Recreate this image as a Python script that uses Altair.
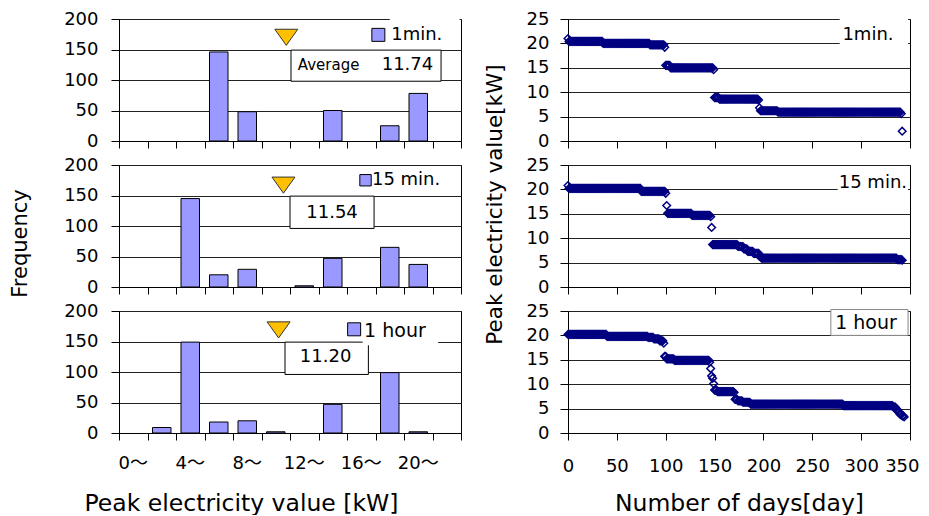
import altair as alt
import pandas as pd

FONT = "DejaVu Sans, Noto Sans CJK JP, sans-serif"

# ---------------- histogram data (left column) ----------------
bin_lo = [0, 2, 4, 6, 8, 10, 12, 14, 16, 18, 20, 22]
bin_hi = [2, 4, 6, 8, 10, 12, 14, 16, 18, 20, 22, 24]
bin_edges = [0, 2, 4, 6, 8, 10, 12, 14, 16, 18, 20, 22, 24]
freq_1min = [0, 0, 0, 146, 48, 0, 0, 50, 0, 25, 78, 0]
freq_15min = [0, 0, 145, 20, 29, 0, 2, 47, 0, 65, 37, 0]
freq_1hour = [0, 9, 149, 18, 20, 2, 0, 47, 0, 99, 2, 0]
averages = [11.74, 11.54, 11.20]
average_text = ["11.74", "11.54", "11.20"]
series_names = ["1min.", "15 min.", "1 hour"]
x_label_text = ["0〜", "4〜", "8〜", "12〜", "16〜", "20〜"]
x_label_at = [1, 5, 9, 13, 17, 21]
freq_ticks = [0, 50, 100, 150, 200]

# ---------------- duration curves (right column) ----------------
# plateau levels (kW) and number of days spent at each level
dur_1min_kw = [21.0, 20.4, 20.0, 19.7, 19.2, 15.5, 15.0, 14.6, 8.9, 8.6, 8.4,
               6.8, 6.2, 5.9, 5.6, 2.0]
dur_1min_days = [1, 35, 48, 15, 1, 5, 44, 1, 5, 40, 1, 1, 18, 126, 1, 1]

dur_15min_kw = [20.8, 20.2, 19.6, 19.2, 16.7, 15.1, 14.7, 14.4, 12.2, 8.7, 8.3,
                7.8, 7.3, 6.9, 6.3, 5.9, 5.6, 5.5]
dur_15min_days = [1, 74, 25, 1, 1, 25, 19, 1, 1, 26, 6, 4, 6, 6, 2, 139, 5, 1]

dur_1hour_kw = [20.2, 19.8, 19.6, 19.3, 18.9, 18.4, 15.7, 15.2, 14.9, 14.5, 13.2,
                11.7, 11.2, 10.1, 8.8, 8.5, 8.3, 6.9, 6.6, 6.3, 5.9, 5.6, 5.3,
                4.8, 4.3, 3.8, 3.5, 3.3]
dur_1hour_days = [40, 42, 6, 6, 4, 1, 2, 8, 36, 1, 1, 1, 1, 1, 3, 17, 1, 3, 5, 8,
                  95, 51, 3, 2, 2, 2, 2, 1]
day_ticks = [0, 50, 100, 150, 200, 250, 300, 350]
kw_ticks = [0, 5, 10, 15, 20, 25]

W, H = 342, 122
BAR = "#9999FF"
NAVY = "#000080"

# annotation placement (style) for each panel
hist_ann = [
    dict(tri_y=170, box=(12.07, 22.6, 98, 149), avg_label=True, txt_y=124,
         cover=(19.0, 23.9, 182, 204), sq=(18.2, 174, 169), leg=(19.1, 174, 18)),
    dict(tri_y=167, box=(12.0, 17.9, 96, 149), avg_label=False, txt_x=14.95, txt_y=122,
         cover=None, sq=(17.3, 175, 130), leg=(17.75, 175, 18)),
    dict(tri_y=169, box=(11.65, 17.5, 96, 149), avg_label=False, txt_x=14.5, txt_y=124,
         cover=(17.1, 22.4, 144, 185), sq=(16.5, 170, 169), leg=(17.2, 167, 19)),
]
dur_ann = [
    dict(box=(278, 348, 19.6, 25.4), stroke=None, txt=(307, 21.7, 18)),
    dict(box=(276, 348, 19.3, 24.6), stroke=None, txt=(312, 21.3, 18)),
    dict(box=(269, 348, 20.0, 25.3), stroke="#888888", txt=(305, 22.5, 19)),
]


def one_row(**cols):
    return pd.DataFrame({k: [v] for k, v in cols.items()})


def make_enc(xs, ys, xaxis, yaxis, xtitle, ytitle):
    def X(field):
        return alt.X(field, scale=xs, axis=xaxis, title=xtitle)

    def Y(field):
        return alt.Y(field, scale=ys, axis=yaxis, title=ytitle)
    return X, Y


def hist_panel(i, freq, bottom, ytitle):
    ann = hist_ann[i]
    xs = alt.Scale(domain=[0, 24], nice=False, zero=False)
    ys = alt.Scale(domain=[0, 200], nice=False)
    xaxis_kw = dict(values=bin_edges, labels=False, tickSize=7, grid=False)
    if bottom:
        xaxis_kw.update(titleX=122, titleY=70, titleAlign="center",
                        titleBaseline="middle", titleFontSize=23.5)
    yaxis_kw = dict(values=freq_ticks, tickSize=8, labelPadding=13, grid=True)
    if ytitle:
        yaxis_kw.update(titleX=-99, titleY=78, titleAlign="center",
                        titleBaseline="middle", titleFontSize=21)
    X, Y = make_enc(xs, ys, alt.Axis(**xaxis_kw), alt.Axis(**yaxis_kw),
                    "Peak electricity value [kW]" if bottom else None,
                    "Frequency" if ytitle else None)

    df = pd.DataFrame({"lo": bin_lo, "hi": bin_hi, "freq": freq})
    bars = alt.Chart(df).transform_filter("datum.freq > 0").mark_bar(
        fill=BAR, stroke="black", strokeWidth=1, xOffset=5, x2Offset=-5).encode(
        x=X("lo:Q"), x2="hi:Q", y=Y("freq:Q"), y2=alt.datum(0))
    layers = [bars]

    tri = alt.Chart(one_row(avg=averages[i], y=ann["tri_y"])).mark_point(
        shape="M-1,-0.7L1,-0.7L0,0.7Z", filled=True, fill="#FFC000", stroke="#333333",
        strokeWidth=1, size=529, opacity=1).encode(x=X("avg:Q"), y=Y("y:Q"))
    layers.append(tri)

    bx = ann["box"]
    box = alt.Chart(one_row(a=bx[0], b=bx[1], c=bx[2], d=bx[3])).mark_rect(
        fill="white", stroke="black", strokeWidth=1).encode(
        x=X("a:Q"), x2="b:Q", y=Y("c:Q"), y2="d:Q")
    layers.append(box)

    if ann["avg_label"]:
        t1 = alt.Chart(one_row(x=bx[0] + 0.48, y=ann["txt_y"], t="Average")).mark_text(
            align="left", baseline="middle", font=FONT, fontSize=15, color="black").encode(
            x=X("x:Q"), y=Y("y:Q"), text="t:N")
        t2 = alt.Chart(one_row(x=bx[1] - 0.55, y=ann["txt_y"], t=average_text[i])).mark_text(
            align="right", baseline="middle", font=FONT, fontSize=18, color="black").encode(
            x=X("x:Q"), y=Y("y:Q"), text="t:N")
        layers += [t1, t2]
    else:
        t2 = alt.Chart(one_row(x=ann["txt_x"], y=ann["txt_y"], t=average_text[i])).mark_text(
            align="center", baseline="middle", font=FONT, fontSize=18, color="black").encode(
            x=X("x:Q"), y=Y("y:Q"), text="t:N")
        layers.append(t2)

    if ann["cover"] is not None:
        cv = ann["cover"]
        cover = alt.Chart(one_row(a=cv[0], b=cv[1], c=cv[2], d=cv[3])).mark_rect(
            fill="white", strokeWidth=0).encode(
            x=X("a:Q"), x2="b:Q", y=Y("c:Q"), y2="d:Q")
        layers.append(cover)

    sq = ann["sq"]
    square = alt.Chart(one_row(x=sq[0], y=sq[1])).mark_point(
        shape="square", filled=True, fill=BAR, stroke="black", strokeWidth=1,
        size=sq[2], opacity=1).encode(x=X("x:Q"), y=Y("y:Q"))
    lg = ann["leg"]
    legtxt = alt.Chart(one_row(x=lg[0], y=lg[1], t=series_names[i])).mark_text(
        align="left", baseline="middle", font=FONT, fontSize=lg[2], color="black").encode(
        x=X("x:Q"), y=Y("y:Q"), text="t:N")
    layers += [square, legtxt]

    if bottom:
        xl = alt.Chart(pd.DataFrame({"x": x_label_at, "t": x_label_text})).mark_text(
            align="center", baseline="middle", font=FONT, fontSize=18, color="black").encode(
            x=X("x:Q"), y=alt.value(H + 31), text="t:N")
        layers.append(xl)

    return alt.layer(*layers).properties(width=W, height=H)


def dur_panel(i, kw, days, bottom, ytitle):
    ann = dur_ann[i]
    vals = []
    for v, c in zip(kw, days):
        vals += [v] * c
    df = pd.DataFrame({"day": list(range(len(vals))), "kw": vals})
    xs = alt.Scale(domain=[0, 350], nice=False, zero=False)
    ys = alt.Scale(domain=[0, 25], nice=False)
    last = day_ticks[-1]
    xaxis_kw = dict(values=day_ticks, tickSize=7, grid=False, labels=bottom,
                    labelOverlap=False, labelFlush=False,
                    labelAlign={"expr": f"datum.value >= {last} ? 'right' : 'center'"},
                    labelOffset={"expr": f"datum.value >= {last} ? 9 : 0"})
    if bottom:
        xaxis_kw.update(labelPadding=17, titleX=171, titleY=70,
                        titleAlign="center", titleBaseline="middle", titleFontSize=23.5)
    yaxis_kw = dict(values=kw_ticks, tickSize=8, labelPadding=11, grid=True,
                    labelOverlap=False, labelFlush=False)
    if ytitle:
        yaxis_kw.update(titleX=-73, titleY=39, titleAlign="center",
                        titleBaseline="middle", titleFontSize=21.5)
    X, Y = make_enc(xs, ys, alt.Axis(**xaxis_kw), alt.Axis(**yaxis_kw),
                    "Number of days[day]" if bottom else None,
                    "Peak electricity value[kW]" if ytitle else None)

    pts = alt.Chart(df).mark_point(shape="diamond", filled=False, color=NAVY, size=58,
                                   strokeWidth=1.5, opacity=1).encode(
        x=X("day:Q"), y=Y("kw:Q"))
    bx = ann["box"]
    rect_kw = dict(fill="white")
    if ann["stroke"]:
        rect_kw.update(stroke=ann["stroke"], strokeWidth=1)
    else:
        rect_kw.update(strokeWidth=0)
    box = alt.Chart(one_row(a=bx[0], b=bx[1], c=bx[2], d=bx[3])).mark_rect(**rect_kw).encode(
        x=X("a:Q"), x2="b:Q", y=Y("c:Q"), y2="d:Q")
    tx = ann["txt"]
    txt = alt.Chart(one_row(x=tx[0], y=tx[1], t=series_names[i])).mark_text(
        align="center", baseline="middle", font=FONT, fontSize=tx[2], color="black").encode(
        x=X("x:Q"), y=Y("y:Q"), text="t:N")
    return alt.layer(pts, box, txt).properties(width=W, height=H)


h1 = hist_panel(0, freq_1min, False, False)
h2 = hist_panel(1, freq_15min, False, True)
h3 = hist_panel(2, freq_1hour, True, False)
d1 = dur_panel(0, dur_1min_kw, dur_1min_days, False, False)
d2 = dur_panel(1, dur_15min_kw, dur_15min_days, False, True)
d3 = dur_panel(2, dur_1hour_kw, dur_1hour_days, True, False)

chart = alt.concat(h1, d1, h2, d2, h3, d3, columns=2,
                   spacing={"row": 24, "column": 107}, bounds="flush").properties(
    padding={"left": 0, "top": 1, "right": 0, "bottom": 0},
    background="white",
).configure_view(stroke="black", strokeWidth=1).configure_axis(
    labelFont=FONT, labelFontSize=18, labelColor="black",
    tickColor="black", domainColor="black", gridColor="#222222",
    titleFont=FONT, titleColor="black", titleFontWeight="normal",
)

chart.save("out.html", embed_options={"renderer": "svg", "actions": False})
